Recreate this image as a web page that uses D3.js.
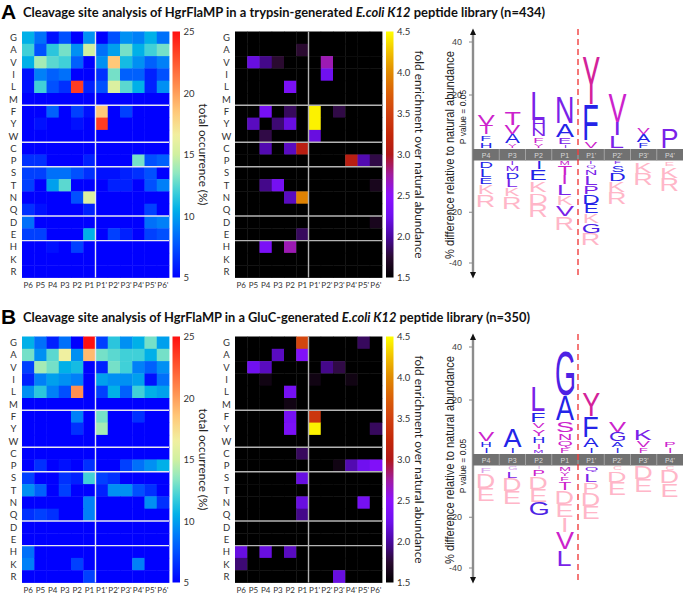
<!DOCTYPE html>
<html><head><meta charset="utf-8">
<script src="https://cdn.jsdelivr.net/npm/d3@7/dist/d3.min.js"></script>
<style>html,body{margin:0;padding:0;background:#fff}svg{display:block}</style>
</head><body>
<svg id="chart" width="685" height="594"></svg>
<script>
// ================= DATA =================
const aminoAcids = ["G","A","V","I","L","M","F","Y","W","C","P","S","T","N","Q","D","E","H","K","R"];
const positions = ["P6","P5","P4","P3","P2","P1","P1'","P2'","P3'","P4'","P5'","P6'"];
const occurrenceTicks = [5,10,15,20,25];
const enrichmentTicks = [1.5,2.0,2.5,3.0,3.5,4.0,4.5];
const logoPositions = ["P4","P3","P2","P1","P1'","P2'","P3'","P4'"];
const logoTicks = [40,20,-20,-40];

// total occurrence (%) — panel A (trypsin library), rows = aminoAcids, cols = positions
const occurrenceA = [
 [10.5,8.5,5.5,7.5,5,9.5, 5,7.5,9.5,9,10.5,8.5],   // G
 [12,7.5,11.5,13,9.5,15, 8.5,10,13,10.5,12,13],     // A
 [10.5,14,12.5,12,8,5, 9.5,18.5,11,9.5,8,9],        // V
 [5.5,9,8,8.5,5,5, 6.5,13,8,8,6,7.5],               // I
 [5.5,12,7.5,6.5,23.5,6, 7.5,15.5,12.5,10.5,6,9.5], // L
 [5,5,5,5,5,5, 5,5,5,5,5,5],                        // M
 [5,5,8,5,7,5.5, 18.5,5,7,5,5,5],                   // F
 [5,5.5,5,5,5.5,5, 23.5,5,5,5,5,5],                 // Y
 [5,5,5,5,5,5, 5,5,5,5,5,5],                        // W
 [5,5,5,5,5,5, 5,5,5,5,5,5],                        // C
 [6.5,6.5,5,5,5,6, 5,5,5,13,7.5,8],                 // P
 [7,7,8.5,8.5,7.5,6.5, 5.5,5.5,6,6.5,7.5,5],        // S
 [7,5,10,12.5,5,5, 5,6,6,5,7.5,9],                  // T
 [5,5,5,5,7.5,15.5, 5,5,5,5,5,5],                   // N
 [6.5,5.5,5,5,5,6, 5,5,5,5,7,5],                    // Q
 [8.5,5,5,5,5,5, 5,5,5,5,8.5,9],                    // D
 [7,7,5,5,5,10.5, 5,7,6,5,7,7.5],                   // E
 [5,5,5.5,5,7,5, 5,5,5,5,5,5],                      // H
 [5,5,5,5,5,5, 5,5,5,5,5,5],                        // K
 [5,5,5,5,5,5, 5,5,5,5,5,5]                         // R
];
// fold enrichment over natural abundance — panel A (values <=1.5 shown black)
const enrichmentA = [
 [1,1,1,1,1,1, 1,1,1,1,1,1],          // G
 [1,1,1,1,1,1.75, 1,1,1,1,1,1],       // A
 [1,2.2,1.95,1.75,1,1, 1,2.7,1,1,1,1],// V
 [1,1,1,1,1,1, 1,2.25,1,1,1,1],       // I
 [1,1,1,1,2.35,1, 1,1,1,1,1,1],       // L
 [1,1,1,1,1,1, 1,1,1,1,1,1],          // M
 [1,1,2.3,1,1.85,1, 4.45,1,1.8,1,1,1],// F
 [1,2.1,1,1.9,2.2,1, 4.45,1,1,1,1,1], // Y
 [1,1,1.8,1,1,1, 2.2,1,1,1,1,1],      // W
 [1,1,2.05,1,2.1,3.1, 1,1,1,1,1,1],   // C
 [1,1,1,1,1,1, 1,1,1,3.1,2.05,1.8],   // P
 [1,1,1,1,1,1, 1,1,1,1,1,1],          // S
 [1,1,1.95,2.3,1,1, 1,1,1,1,1,1.65],  // T
 [1,1,1,1,2.1,3.95, 1,1,1,1,1,1],     // N
 [1,1,1,1,1,1, 1,1,1,1,1,1],          // Q
 [1,1,1,1,1,1, 1,1,1,1,1,1.65],       // D
 [1,1,1,1,1,1.85, 1,1,1,1,1,1],       // E
 [1,1,2.35,1,2.7,1, 1,1,1,1,1,1],     // H
 [1,1,1,1,1,1, 1,1,1,1,1,1],          // K
 [1,1,1,1,1,1, 1,1,1,1,1,1]           // R
];
// total occurrence (%) — panel B (GluC library)
const occurrenceB = [
 [10.5,8.5,6,8.5,5,25, 7,11.5,9.5,10.5,13,10],      // G
 [13,9.5,12.5,16.5,9.5,19, 13,12.5,12,12,10.5,13],  // A
 [7,14,13,10.5,11,5, 6,13,12,9,8,9.5],              // V
 [6,9,10,9.5,9,5, 10,9.5,9.5,10,5.5,8.5],           // I
 [9.5,11.5,9,7.5,20.5,5, 7,10.5,8,12,10.5,10],      // L
 [5,5,5,5,5,5, 5,5,5,5,5,5],                        // M
 [5,5,5,5,9,5, 13,5,5,6.5,5,5],                     // F
 [5,5,5,5,6.5,5, 14,5,5,5,5,5],                     // Y
 [5,5,5,5,5,5, 5,5,5,5,5,5],                        // W
 [5,5,5,5,5,5, 5,5,5,5,5,5],                        // C
 [5,6.5,5,5.5,5,6.5, 5,5,7,8.5,9.5,10.5],           // P
 [7,5,5,6.5,6,12, 7,6.5,5,5,5,5],                   // S
 [9.5,8,5,7,5,5, 6,9.5,9.5,7.5,6.5,5],              // T
 [5,5,5,5,5,9, 5,5,5,5,9.5,6.5],                    // N
 [6.5,7,6.5,5,5,9, 5,5,5,5,5,5],                    // Q
 [5,5,5,5,5,5, 5,5,5,5,5,5],                        // D
 [5,5,5,5,5,5, 5,5,5,5,5,5],                        // E
 [8.5,5,5,5,5,5, 5,5,5,5,5,5],                      // H
 [9,5,5,5,7,5, 5,5,5,9,5,5],                        // K
 [5,5,5,5,5,7, 5,5,5,5,5,5]                         // R
];
// fold enrichment over natural abundance — panel B
const enrichmentB = [
 [1,1,1,1,1,3.55, 1,1,1,1,1.85,1],    // G
 [1,1,1,2.1,1,2.4, 1,1,1,1,1,1],      // A
 [1,2.25,2.1,1,1,1, 1,1.95,1.8,1,1,1],// V
 [1,1,1.6,1,1,1, 1.6,1,1,1.6,1,1],    // I
 [1,1,1,1,2.3,1, 1,1,1,1,1,1],        // L
 [1,1,1,1,1.6,1, 1,1,1,1,1,1],        // M
 [1,1,1,1,2.3,1, 3.4,1,1,1,1,1],      // F
 [1,1,1,1,2.35,1, 4.45,1,1,1,1,1.85], // Y
 [1,1,1,1,1,1, 1,1,1,1,1,1],          // W
 [1,1,1,1,1,1.85, 1,1,1,1,1,1],       // C
 [1,1,1,1,1,1, 1,1,1.6,2.05,2.25,2.4],// P
 [1,1,1,1,1,2.2, 1,1,1,1,1,1],        // S
 [1,1,1,1,1,1, 1,1,1,1,1,1],          // T
 [1,1,1,1,1,2.2, 1,1,1,1,2.3,1],      // N
 [1,1,1,1,1,1.95, 1,1,1,1,1,1],       // Q
 [1,1,1,1,1,1, 1,1,1,1,1,1],          // D
 [1,1,1,1,1,1, 1,1,1,1,1,1],          // E
 [2.2,1,2.2,1,2.1,1, 1,1,1,1,1,1],    // H
 [1.9,1,1,1,1,1, 1,1,1,1,1,1],        // K
 [1,1,1,1,1,1, 1,1,2.2,1,1,1]         // R
];

// Sequence logos: [residue, % difference, colour class], listed from the bar outwards
const logoAUp = [
 [["H",2.5,"b"],["F",2.5,"b"],["T",3.5,"m"],["V",4.0,"m"]],
 [["Y",1.6,"m"],["A",3.4,"b"],["V",3.6,"m"],["T",5.0,"m"]],
 [["Y",1.9,"m"],["F",2.4,"m"],["N",3.1,"v"],["H",3.1,"v"],["L",11.3,"v"]],
 [["I",1.2,"v"],["E",2.9,"v"],["A",5.0,"b"],["N",10.3,"v"]],
 [["V",2.7,"m"],["F",13.7,"b"],["Y",18.4,"r"]],
 [["L",4.7,"v"],["I",5.0,"v"],["V",11.2,"m"]],
 [["F",2.2,"b"],["A",3.0,"b"],["V",2.7,"m"]],
 [["P",7.6,"v"]]
];
const logoADown = [
 [["D",2.9,"b"],["L",3.3,"b"],["E",3.0,"b"],["K",3.9,"k"],["R",4.8,"k"]],
 [["I",1.6,"v"],["M",2.4,"v"],["D",2.9,"b"],["L",3.3,"v"],["K",3.7,"k"],["R",4.8,"k"]],
 [["I",3.3,"b"],["E",4.3,"b"],["K",4.6,"k"],["D",4.6,"k"],["R",5.2,"k"]],
 [["M",1.6,"m"],["T",3.9,"m"],["I",3.5,"m"],["L",4.3,"v"],["K",3.9,"k"],["V",4.6,"v"],["R",5.2,"k"]],
 [["I",1.3,"v"],["Q",1.6,"v"],["N",2.6,"v"],["L",3.9,"v"],["P",3.7,"v"],["D",3.9,"b"],["E",3.5,"b"],["K",3.9,"k"],["G",4.0,"i"],["R",4.8,"k"]],
 [["F",1.3,"v"],["S",2.9,"b"],["D",3.7,"b"],["K",4.3,"k"],["R",4.8,"k"]],
 [["K",4.6,"k"],["R",4.8,"k"]],
 [["E",2.0,"k"],["K",4.6,"k"],["R",5.2,"k"]]
];
const logoBUp = [
 [["I",2.2,"b"],["H",2.2,"b"],["V",3.7,"m"]],
 [["I",2.2,"b"],["A",6.9,"b"]],
 [["M",1.5,"v"],["I",2.2,"m"],["H",2.6,"b"],["Y",2.9,"m"],["V",2.5,"m"],["F",3.9,"b"],["L",9.6,"v"]],
 [["F",2.0,"m"],["Q",2.9,"m"],["N",2.9,"m"],["S",4.4,"m"],["A",9.6,"b"],["G",17.1,"i"]],
 [["I",2.2,"b"],["A",3.5,"b"],["F",8.1,"b"],["Y",9.1,"r"]],
 [["I",2.0,"b"],["A",2.5,"b"],["G",3.4,"i"],["V",4.0,"m"]],
 [["F",2.0,"m"],["V",2.9,"m"],["K",4.4,"v"]],
 [["I",2.2,"m"],["P",2.5,"m"]]
];
const logoBDown = [
 [["F",2.6,"l"],["D",5.9,"k"],["E",5.2,"k"]],
 [["G",1.6,"l"],["L",3.0,"v"],["D",5.2,"k"],["E",5.2,"k"]],
 [["I",1.0,"l"],["P",2.9,"m"],["D",5.0,"k"],["E",5.2,"k"],["G",5.2,"i"]],
 [["M",2.0,"m"],["Y",2.0,"m"],["F",2.0,"m"],["T",3.3,"m"],["D",5.5,"k"],["E",5.2,"k"],["I",6.0,"k"],["V",6.8,"m"],["L",6.5,"v"]],
 [["Q",2.6,"v"],["L",3.7,"v"],["P",4.2,"k"],["D",5.2,"k"],["E",5.2,"k"]],
 [["C",1.6,"k"],["D",4.6,"k"],["E",5.2,"k"]],
 [["D",5.2,"k"],["E",5.2,"k"]],
 [["C",1.6,"k"],["D",5.2,"k"],["E",5.2,"k"]]
];

// ================= STYLE / LAYOUT =================
const letterColours = {b:"#2424e8", v:"#7a22e8", i:"#4d22e4", m:"#cc22cc", r:"#d3229a", k:"#ffb6c8", l:"#d8a2ea"};
const occColor = d3.scaleLinear()
  .domain([5,6,7.5,9,10.5,12,13.5,15,16.5,18.5,20.5,23,25])
  .range(["#0000ff","#0020ff","#0050ff","#0080f8","#00b0e8","#40d0d8","#90e8c0","#d0f0a0","#f0f0a0","#ffc878","#ff9050","#ff4a28","#ff1010"])
  .clamp(true);
const enrColor = d3.scaleLinear()
  .domain([1.5,1.75,2.0,2.25,2.5,2.75,3.0,3.25,3.5,3.75,4.0,4.25,4.5])
  .range(["#000000","#2a0a30","#4a08a0","#7010f0","#8c10ff","#a01ca0","#b01818","#c42808","#d04010","#da6008","#e08a00","#f0c000","#ffff00"])
  .clamp(true);

const svg = d3.select("#chart");
const defs = svg.append("defs");
const HM_TOP = 31.5, HM_BOT = 277.5, HM_W = 147;
const canvasCtx = document.createElement("canvas").getContext("2d");
const LOGO_FONT = "'Liberation Sans', Arial, sans-serif";

const panels = [
  {key:"A", off:0, pre:"Cleavage site analysis of HgrFlaMP in a trypsin-generated ", post:" peptide library (n=434)", titleW:522,
   occ:occurrenceA, enr:enrichmentA, up:logoAUp, down:logoADown, pY:117},
  {key:"B", off:305, pre:"Cleavage site analysis of HgrFlaMP in a GluC-generated ", post:" peptide library (n=350)", titleW:507,
   occ:occurrenceB, enr:enrichmentB, up:logoBUp, down:logoBDown, pY:161}
];

function heatmap(g, x0, data, color, lineColor) {
  const x = d3.scaleBand().domain(positions).range([x0, x0 + HM_W]);
  const y = d3.scaleBand().domain(aminoAcids).range([HM_TOP, HM_BOT]);
  const cells = [];
  data.forEach((row, i) => row.forEach((v, j) => cells.push({aa: aminoAcids[i], pos: positions[j], v})));
  g.append("g").selectAll("rect").data(cells).join("rect")
    .attr("x", d => x(d.pos)).attr("y", d => y(d.aa))
    .attr("width", x.bandwidth() + 0.4).attr("height", y.bandwidth() + 0.4)
    .attr("fill", d => color(d.v));
  ["M","W","P","Q","E"].forEach(aa => {
    const yy = y(aa) + y.bandwidth();
    g.append("line").attr("x1", x0).attr("x2", x0 + HM_W).attr("y1", yy).attr("y2", yy)
      .attr("stroke", lineColor).attr("stroke-width", 1.4);
  });
  const xv = x("P1'");
  g.append("line").attr("x1", xv).attr("x2", xv).attr("y1", HM_TOP).attr("y2", HM_BOT)
    .attr("stroke", lineColor).attr("stroke-width", 1.4);
  g.append("g").selectAll("text").data(aminoAcids).join("text")
    .attr("x", x0 - 8.5).attr("y", d => y(d) + y.bandwidth() / 2)
    .attr("text-anchor", "middle").attr("dominant-baseline", "central")
    .attr("font-family", "Lato, 'Open Sans', sans-serif").attr("font-size", 9.5).attr("fill", "#333")
    .text(d => d);
  g.append("g").selectAll("text").data(positions).join("text")
    .attr("x", d => x(d) + x.bandwidth() / 2).attr("y", HM_BOT + 10)
    .attr("text-anchor", "middle")
    .attr("font-family", "Lato, 'Open Sans', sans-serif").attr("font-size", 8).attr("fill", "#333")
    .text(d => d);
}

function colorbar(g, id, x0, domain, color, ticks, fmt, title, titleX, titleLen) {
  const grad = defs.append("linearGradient").attr("id", id)
    .attr("x1", 0).attr("y1", 1).attr("x2", 0).attr("y2", 0);
  d3.range(0, 1.0001, 0.02).forEach(t => {
    grad.append("stop").attr("offset", t).attr("stop-color", color(domain[0] + t * (domain[1] - domain[0])));
  });
  g.append("rect").attr("x", x0).attr("y", HM_TOP).attr("width", 7.5).attr("height", HM_BOT - HM_TOP)
    .attr("fill", `url(#${id})`);
  const s = d3.scaleLinear().domain(domain).range([HM_BOT, HM_TOP]);
  const ax = g.append("g").attr("transform", `translate(${x0 + 7.5},0)`)
    .call(d3.axisRight(s).tickValues(ticks).tickFormat(fmt).tickSize(0).tickPadding(3.5));
  ax.select(".domain").remove();
  ax.selectAll("text").attr("font-family", "Lato, 'Open Sans', sans-serif").attr("font-size", 9.5).attr("fill", "#333");
  g.append("text").attr("transform", `translate(${titleX},${(HM_TOP + HM_BOT) / 2}) rotate(90)`)
    .attr("text-anchor", "middle").attr("font-family", "Lato, 'Open Sans', sans-serif").attr("font-size", 11.5)
    .attr("fill", "#222").attr("textLength", titleLen).attr("lengthAdjust", "spacingAndGlyphs").text(title);
}

function drawLetter(g, ch, cx, yTop, yBot, fill) {
  const h = yBot - yTop;
  if (h <= 0.3) return;
  const fs = Math.min(27, 6 + 2 * h);
  canvasCtx.font = `${fs}px ${LOGO_FONT}`;
  const m = canvasCtx.measureText(ch);
  const asc = m.actualBoundingBoxAscent, desc = m.actualBoundingBoxDescent;
  const sy = h / (asc + desc);
  const xs = cx - (m.actualBoundingBoxRight - m.actualBoundingBoxLeft) / 2;
  const base = yBot - desc * sy;
  g.append("text").attr("transform", `translate(${xs},${base}) scale(1,${sy})`)
    .attr("font-family", LOGO_FONT).attr("font-size", fs).attr("fill", fill).text(ch);
}

function logo(g, up, down, pY) {
  const x = d3.scaleBand().domain(logoPositions).range([473, 683]);
  const yUp = d3.scaleLinear().domain([0, 40]).range([148, 42]);
  const yDn = d3.scaleLinear().domain([0, -40]).range([161.5, 263]);
  const ax = 473;
  g.append("line").attr("x1", ax).attr("x2", ax).attr("y1", 33).attr("y2", 274)
    .attr("stroke", "#8c8c8c").attr("stroke-width", 2.4);
  g.append("path").attr("d", `M${ax},28.5 L${ax - 3},35 L${ax + 3},35 Z`).attr("fill", "#111");
  g.append("path").attr("d", `M${ax},278.5 L${ax - 3},272 L${ax + 3},272 Z`).attr("fill", "#111");
  logoTicks.forEach(t => {
    const yy = t > 0 ? yUp(t) : yDn(t);
    g.append("line").attr("x1", ax - 4).attr("x2", ax).attr("y1", yy).attr("y2", yy).attr("stroke", "#888").attr("stroke-width", 1);
    g.append("text").attr("x", ax - 11).attr("y", yy).attr("dominant-baseline", "central").attr("text-anchor", "end")
      .attr("font-family", LOGO_FONT).attr("font-size", 9).attr("fill", "#444").text(t);
  });
  g.append("rect").attr("x", 473).attr("y", 149).attr("width", 210).attr("height", 11.5).attr("fill", "#717171");
  logoPositions.forEach((p, i) => {
    if (i > 0) g.append("line").attr("x1", x(p)).attr("x2", x(p)).attr("y1", 149).attr("y2", 160.5)
      .attr("stroke", "#a8a8a8").attr("stroke-width", 0.9);
    g.append("text").attr("x", x(p) + x.bandwidth() / 2).attr("y", 155).attr("dominant-baseline", "central")
      .attr("text-anchor", "middle").attr("font-family", LOGO_FONT).attr("font-size", 7).attr("fill", "#d8d8d8").text(p);
  });
  g.append("line").attr("x1", x("P1'")).attr("x2", x("P1'")).attr("y1", 29).attr("y2", 278)
    .attr("stroke", "#f03030").attr("stroke-width", 1.3).attr("stroke-dasharray", "6,4");
  up.forEach((stack, i) => {
    const cx = x(logoPositions[i]) + x.bandwidth() / 2;
    let cum = 0;
    stack.forEach(([ch, v, c]) => {
      drawLetter(g, ch, cx, yUp(cum + v) + 0.4, yUp(cum) - 0.4, letterColours[c]);
      cum += v;
    });
  });
  down.forEach((stack, i) => {
    const cx = x(logoPositions[i]) + x.bandwidth() / 2;
    let cum = 0;
    stack.forEach(([ch, v, c]) => {
      drawLetter(g, ch, cx, yDn(-cum) + 0.4, yDn(-(cum + v)) - 0.4, letterColours[c]);
      cum += v;
    });
  });
  g.append("text").attr("transform", `translate(454,155) rotate(-90)`).attr("text-anchor", "middle")
    .attr("font-family", LOGO_FONT).attr("font-size", 12).attr("fill", "#222")
    .attr("textLength", 208).attr("lengthAdjust", "spacingAndGlyphs")
    .text("% difference relative to natural abundance");
  g.append("text").attr("transform", `translate(466,${pY}) rotate(-90)`).attr("text-anchor", "middle")
    .attr("font-family", LOGO_FONT).attr("font-size", 8.5).attr("fill", "#222")
    .text("P value = 0.05");
}

panels.forEach(p => {
  const g = svg.append("g").attr("transform", `translate(0,${p.off})`);
  g.append("text").attr("x", 1).attr("y", 19).attr("font-family", "'Liberation Sans', Arial, sans-serif")
    .attr("font-weight", "bold").attr("font-size", 21).attr("fill", "#000").text(p.key);
  const t = g.append("text").attr("x", 23).attr("y", 16.5).attr("font-family", "Lato, 'Open Sans', sans-serif")
    .attr("font-weight", "bold").attr("font-size", 12.5).attr("fill", "#111")
    .attr("textLength", p.titleW).attr("lengthAdjust", "spacingAndGlyphs");
  t.append("tspan").text(p.pre);
  t.append("tspan").attr("font-style", "italic").text("E.coli K12");
  t.append("tspan").text(p.post);

  heatmap(g.append("g"), 22, p.occ, occColor, "#e6e6f0");
  colorbar(g.append("g"), "occ" + p.key, 172.5, [5, 25], occColor, occurrenceTicks, d3.format("d"), "total occurrence (%)", 199, 102);
  heatmap(g.append("g"), 235, p.enr, enrColor, "#b4b4b4");
  colorbar(g.append("g"), "enr" + p.key, 386, [1.5, 4.5], enrColor, enrichmentTicks, d3.format(".1f"), "fold enrichment over natural abundance", 415, 208);
  logo(g.append("g"), p.up, p.down, p.pY);
});
</script>
</body></html>
